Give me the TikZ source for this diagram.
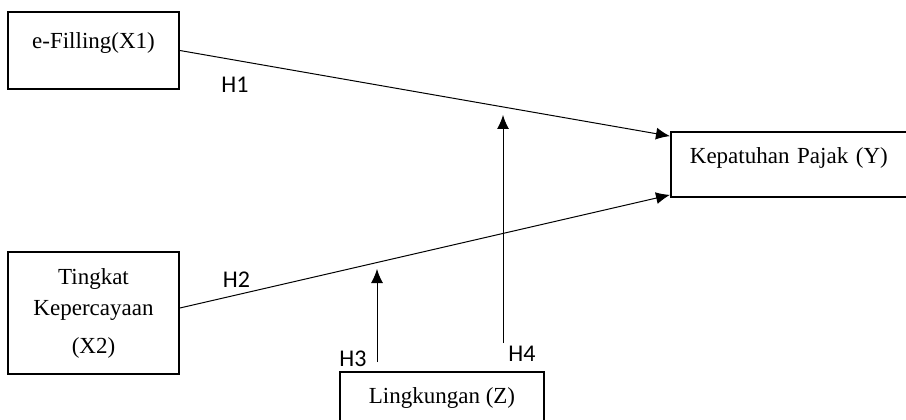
\documentclass[tikz,border=0pt]{standalone}
\usepackage{fontspec}
\setmainfont{Liberation Serif}
\newfontfamily\hypfont{Carlito}
\usetikzlibrary{arrows.meta, positioning, calc}
\tikzstyle{varbox} = [rectangle, draw=black, line width=1.8pt, inner sep=0pt, text centered, font=\fontsize{23}{31}\selectfont]
\tikzstyle{arrow} = [line width=1pt, -{Latex[length=14pt,width=12pt]}]
\tikzstyle{hyp} = [inner sep=0pt, font=\hypfont\fontsize{24}{28}\selectfont]

\begin{document}
\begin{tikzpicture}[x=1pt, y=-1pt]
    \clip (0,0) rectangle (906,420);
    \node (x1) [varbox, minimum width=171, minimum height=77, text height=16, text depth=19] at (93.5,50.5) {e-Filling(X1)};
    \node (x2) [varbox, minimum width=171, minimum height=122, align=center] at (93.5,313) {Tingkat\\Kepercayaan\\[7pt](X2)};
    \node (y) [varbox, anchor=west, text width=204, inner xsep=19, minimum height=65, text height=16, text depth=19, align=left] at (670,164.5) {Kepatuhan Pajak (Y)};
    \node (z) [varbox, anchor=north, minimum width=204, minimum height=52, text height=16, text depth=5] at (442,371) {Lingkungan (Z)};

    \coordinate (m3) at (377,269);
    \coordinate (m4) at (503,115);

    \draw [arrow] (x1.east) -- ([yshift=-5pt]y.north west);
    \draw [arrow] ([yshift=5pt]x2.east) -- ([yshift=3pt]y.south west);
    \draw [arrow] ([xshift=-65pt,yshift=9pt]z.north) -- (m3);
    \draw [arrow] ([xshift=61pt,yshift=28pt]z.north) -- (m4);

    \node (h1) [hyp] at (235,85) {H1};
    \node (h2) [hyp] at (236.5,280) {H2};
    \node (h3) [hyp] at (353,359) {H3};
    \node (h4) [hyp] at (522,354) {H4};
\end{tikzpicture}
\end{document}
